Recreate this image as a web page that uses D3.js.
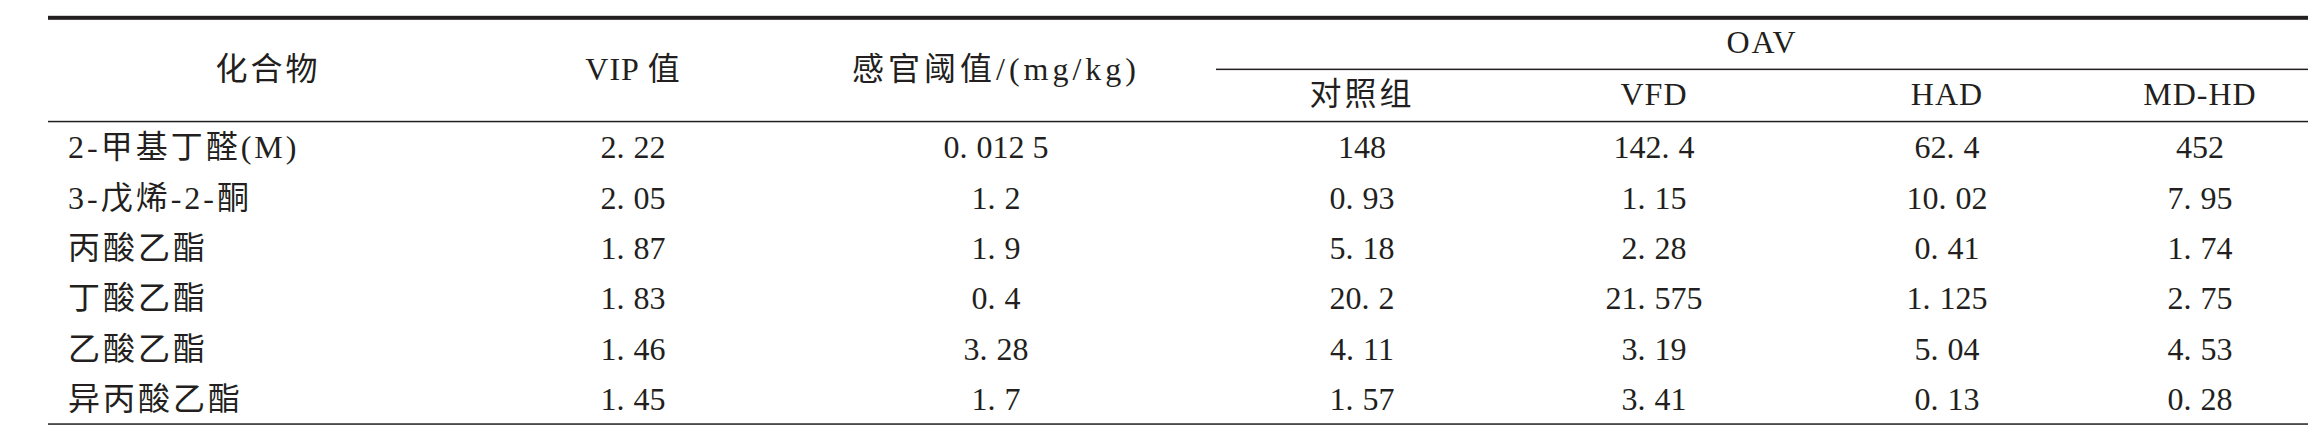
<!DOCTYPE html>
<html>
<head>
<meta charset="utf-8">
<script src="https://cdn.jsdelivr.net/npm/d3@7"></script>
<style>
  html, body { margin: 0; padding: 0; background: #fff; }
  svg { display: block; }
</style>
</head>
<body>
<div id="chart"></div>
<script>
// ─── Table data ───
var compounds = ['2-甲基丁醛(M)', '3-戊烯-2-酮', '丙酸乙酯', '丁酸乙酯', '乙酸乙酯', '异丙酸乙酯'];
var vipValues = [2.22, 2.05, 1.87, 1.83, 1.46, 1.45];
var thresholds = [0.0125, 1.2, 1.9, 0.4, 3.28, 1.7];
var oavControl = [148, 0.93, 5.18, 20.2, 4.11, 1.57];
var oavVFD = [142.4, 1.15, 2.28, 21.575, 3.19, 3.41];
var oavHAD = [62.4, 10.02, 0.41, 1.125, 5.04, 0.13];
var oavMDHD = [452, 7.95, 1.74, 2.75, 4.53, 0.28];
var mainHeaders = ['化合物', 'VIP 值', '感官阈值/(mg/kg)'];
var groupHeader = 'OAV';
var subHeaders = ['对照组', 'VFD', 'HAD', 'MD-HD'];

var W = 2322, H = 445;
var INK = '#231f20';
var FONT = '"Liberation Serif", "Noto Sans CJK SC", serif';

var svg = d3.select('#chart').append('svg').attr('width', W).attr('height', H);
svg.append('rect').attr('width', W).attr('height', H).attr('fill', '#fff');

// column centres (layout only)
var colKeys = ['vip', 'thr', 'ctl', 'vfd', 'had', 'mdhd'];
var x = d3.scaleOrdinal().domain(colKeys).range([633, 996, 1362, 1654, 1947, 2200]);
var tableLeft = 48, tableRight = 2308, oavLeft = 1216, labelX = 68;
var y = d3.scaleBand().domain(d3.range(compounds.length)).range([122, 424]);

// numbers like 0.0125 are set as "0.012 5"
function fmt(v) {
  var s = String(v), p = s.split('.');
  if (p.length < 2) return [p[0]];
  var dec = p[1];
  if (dec.length > 3) dec = dec.replace(/(\d{3})(?=\d)/g, '$1 ');
  return [p[0], dec];
}

function numText(g, cx, by, v) {
  var parts = fmt(v);
  var t = g.append('text').attr('x', cx).attr('y', by).attr('text-anchor', 'middle')
    .attr('fill', INK).attr('font-size', '32px').attr('font-family', FONT).style('white-space', 'pre');
  if (parts.length === 1) { t.text(parts[0]); return; }
  t.append('tspan').text(parts[0] + '.');
  t.append('tspan').attr('dx', 9).text(parts[1]);
}

// ─── Rules ───
svg.append('rect').attr('x', tableLeft).attr('y', 15.8).attr('width', tableRight - tableLeft).attr('height', 4).attr('fill', INK);
svg.append('rect').attr('x', oavLeft).attr('y', 68.6).attr('width', tableRight - oavLeft).attr('height', 1.5).attr('fill', INK);
svg.append('rect').attr('x', tableLeft).attr('y', 120.8).attr('width', tableRight - tableLeft).attr('height', 1.5).attr('fill', INK);
svg.append('rect').attr('x', tableLeft).attr('y', 423.3).attr('width', tableRight - tableLeft).attr('height', 1.5).attr('fill', INK);

// ─── Headers ───
var head = svg.append('g').attr('fill', INK).attr('font-family', FONT).attr('font-size', '32px');
head.append('text').attr('x', 268).attr('y', 80).attr('text-anchor', 'middle').attr('letter-spacing', 3).text(mainHeaders[0]);
head.append('text').attr('x', x('vip')).attr('y', 80).attr('text-anchor', 'middle').attr('letter-spacing', 1).text(mainHeaders[1]);
head.append('text').attr('x', x('thr')).attr('y', 80).attr('text-anchor', 'middle').attr('letter-spacing', 4).text(mainHeaders[2]);
head.append('text').attr('x', (oavLeft + tableRight) / 2).attr('y', 53).attr('text-anchor', 'middle').attr('letter-spacing', 2).text(groupHeader);
['ctl', 'vfd', 'had', 'mdhd'].forEach(function(k, i) {
  head.append('text').attr('x', x(k)).attr('y', 105).attr('text-anchor', 'middle')
    .attr('letter-spacing', i === 0 ? 3 : 1).text(subHeaders[i]);
});

// ─── Body rows ───
var body = svg.append('g');
var series = [['vip', vipValues], ['thr', thresholds], ['ctl', oavControl], ['vfd', oavVFD], ['had', oavHAD], ['mdhd', oavMDHD]];
compounds.forEach(function(name, i) {
  var by = y(i) + y.bandwidth() / 2 + 11;
  body.append('text').attr('x', labelX).attr('y', by).attr('fill', INK).attr('font-family', FONT)
    .attr('font-size', '32px').attr('letter-spacing', 3).text(name);
  series.forEach(function(s) { numText(body, x(s[0]), by, s[1][i]); });
});
</script>
</body>
</html>
